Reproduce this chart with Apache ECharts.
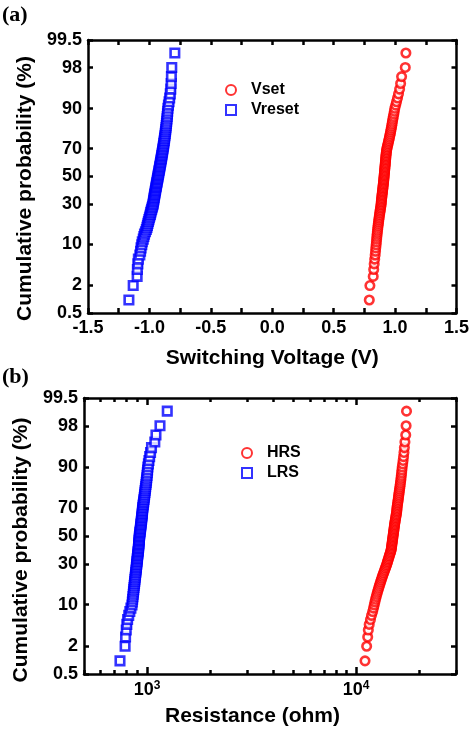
<!DOCTYPE html>
<html>
<head>
<meta charset="utf-8">
<script src="https://cdn.jsdelivr.net/npm/echarts@6/dist/echarts.min.js"></script>
<style>html,body{margin:0;padding:0;background:#fff}#c{width:472px;height:730px}</style>
</head>
<body>
<div id="c"></div>
<script>
// ---- data ----
const probTicks = [0.5, 2, 10, 30, 50, 70, 90, 98, 99.5];          // y tick labels (%)
const voltLabelStep = 0.5;                                        // x label step, panel (a)
const resMajorTicks = [1000, 10000];                              // x labels, panel (b)
const resMinorTicks = [500,600,700,800,900,2000,3000,4000,5000,6000,7000,8000,9000,20000,30000];

const vset = [0.790,0.795,0.822,0.826,0.830,0.834,0.838,0.841,0.843,0.846,
0.848,0.850,0.852,0.854,0.856,0.858,0.860,0.862,0.864,0.866,
0.868,0.870,0.872,0.874,0.876,0.878,0.880,0.882,0.884,0.886,
0.887,0.888,0.889,0.890,0.892,0.893,0.894,0.896,0.897,0.898,
0.900,0.901,0.902,0.903,0.905,0.906,0.907,0.908,0.909,0.910,
0.911,0.912,0.913,0.914,0.915,0.916,0.917,0.918,0.919,0.920,
0.921,0.922,0.923,0.924,0.925,0.926,0.927,0.929,0.930,0.932,
0.934,0.937,0.940,0.943,0.946,0.949,0.952,0.955,0.958,0.961,
0.964,0.967,0.970,0.973,0.976,0.979,0.982,0.986,0.990,0.994,
0.998,1.005,1.012,1.020,1.028,1.037,1.045,1.053,1.083,1.088];

const vreset = [-1.167,-1.132,-1.100,-1.098,-1.094,-1.090,-1.078,-1.072,-1.068,-1.062,
-1.058,-1.050,-1.045,-1.040,-1.032,-1.025,-1.020,-1.016,-1.012,-1.008,
-1.004,-1.000,-0.996,-0.992,-0.989,-0.986,-0.982,-0.978,-0.975,-0.971,
-0.969,-0.967,-0.965,-0.963,-0.961,-0.959,-0.957,-0.955,-0.953,-0.951,
-0.949,-0.947,-0.945,-0.943,-0.941,-0.939,-0.937,-0.935,-0.933,-0.931,
-0.929,-0.927,-0.925,-0.923,-0.921,-0.919,-0.917,-0.915,-0.913,-0.911,
-0.909,-0.907,-0.905,-0.903,-0.901,-0.899,-0.897,-0.895,-0.893,-0.891,
-0.889,-0.887,-0.885,-0.883,-0.881,-0.879,-0.877,-0.875,-0.873,-0.871,
-0.869,-0.867,-0.865,-0.863,-0.861,-0.859,-0.857,-0.855,-0.853,-0.851,
-0.849,-0.845,-0.840,-0.835,-0.830,-0.826,-0.823,-0.821,-0.818,-0.793];

const hrs = [11020,11220,11350,11430,11540,11700,11840,11990,12100,12200,
12290,12380,12470,12560,12650,12740,12830,12920,13010,13100,
13190,13280,13370,13460,13550,13640,13730,13820,13905,13990,
14060,14130,14200,14270,14340,14410,14480,14550,14620,14690,
14720,14750,14780,14810,14840,14870,14900,14930,14960,14990,
15020,15050,15080,15110,15140,15170,15200,15230,15260,15290,
15330,15370,15410,15450,15490,15530,15570,15610,15640,15660,
15680,15720,15760,15800,15840,15880,15920,15960,16000,16040,
16090,16140,16190,16240,16290,16340,16390,16440,16490,16540,
16600,16680,16760,16840,16920,17000,17100,17250,17320,17400];

const lrs = [743,786,790,796,801,808,818,828,838,848,
851,854,857,860,862,865,867,869,872,874,
876,878,880,882,884,886,888,890,891,893,
895,896,898,899,901,902,904,906,907,909,
910,912,913,914,915,916,917,918,919,920,
922,924,925,927,929,931,932,934,936,937,
939,941,943,944,946,948,949,951,952,954,
955,958,960,963,965,968,970,973,975,978,
980,983,986,989,992,995,998,1001,1004,1007,
1010,1016,1022,1030,1040,1051,1090,1104,1154,1250];

// ---- probability (normal quantile) scale ----
function probit(p){
  const a=[-3.969683028665376e+01,2.209460984245205e+02,-2.759285104469687e+02,1.383577518672690e+02,-3.066479806614716e+01,2.506628277459239e+00];
  const b=[-5.447609879822406e+01,1.615858368580409e+02,-1.556989798598866e+02,6.680131188771972e+01,-1.328068155288572e+01];
  const c=[-7.784894002430293e-03,-3.223964580411365e-01,-2.400758277161838e+00,-2.549732539343734e+00,4.374664141464968e+00,2.938163982698783e+00];
  const d=[7.784695709041462e-03,3.224671290700398e-01,2.445134137142996e+00,3.754408661907416e+00];
  const pl=0.02425, ph=1-pl; let q,r;
  if(p<pl){q=Math.sqrt(-2*Math.log(p));return (((((c[0]*q+c[1])*q+c[2])*q+c[3])*q+c[4])*q+c[5])/((((d[0]*q+d[1])*q+d[2])*q+d[3])*q+1);}
  if(p<=ph){q=p-0.5;r=q*q;return (((((a[0]*r+a[1])*r+a[2])*r+a[3])*r+a[4])*r+a[5])*q/(((((b[0]*r+b[1])*r+b[2])*r+b[3])*r+b[4])*r+1);}
  q=Math.sqrt(-2*Math.log(1-p));return -(((((c[0]*q+c[1])*q+c[2])*q+c[3])*q+c[4])*q+c[5])/((((d[0]*q+d[1])*q+d[2])*q+d[3])*q+1);
}
const probZ = probTicks.map(p => probit(p/100));
const zMin = probZ[0], zMax = probZ[probZ.length-1];
// cumulative probability of each sorted value: rank/(n+1)
function toPoints(vals){
  const s = vals.slice().sort((x,y)=>x-y); const n = s.length;
  return s.map((v,i)=>[v, probit((i+1)/(n+1))]);
}

const FONT = 'Liberation Sans, Arial, sans-serif';
const BLACK = '#000';
const lineW = 2.5;
const tickLabel = {color:BLACK, fontFamily:FONT, fontWeight:'bold', fontSize:18};
const nameStyle = {color:BLACK, fontFamily:FONT, fontWeight:'bold', fontSize:21};

function yAxisDef(grid, pos, withLabels, nameGap, shift){
  return {
    type:'value', gridIndex:grid, position:pos, min:zMin, max:zMax,
    axisLine:{show:true, onZero:false, lineStyle:{color:BLACK, width:lineW}},
    axisTick:{show:true, inside:true, length:5, lineStyle:{color:BLACK, width:lineW}, customValues:probZ},
    axisLabel:{show:withLabels, customValues:probZ, margin:6, ...tickLabel,
      formatter:(v)=>{const i=probZ.findIndex(z=>Math.abs(z-v)<1e-6); return i>=0?String(probTicks[i]):'';}},
    splitLine:{show:false},
    name: withLabels ? 'Cumulative probability (%)' : '',
    nameLocation:'middle', nameRotate:90, nameGap:nameGap,
    nameTextStyle:{...nameStyle, padding:[0, shift||0, 0, 0]}
  };
}

function voltAxis(pos, withLabels){
  return {
    type:'value', gridIndex:0, position:pos, min:-1.5, max:1.5, interval:0.25,
    axisLine:{show:true, onZero:false, lineStyle:{color:BLACK, width:lineW}},
    axisTick:{show:true, inside:true, length:5, lineStyle:{color:BLACK, width:lineW}},
    axisLabel:{show:withLabels, margin:6, showMinLabel:true, showMaxLabel:true, ...tickLabel,
      formatter:(v)=>{const k=v/voltLabelStep; return Math.abs(k-Math.round(k))<1e-6 ? v.toFixed(1) : '';}},
    splitLine:{show:false},
    name: withLabels ? 'Switching Voltage (V)' : '',
    nameLocation:'middle', nameGap:35, nameTextStyle:nameStyle
  };
}

function resAxis(pos, major, withLine, withLabels){
  return {
    type:'log', logBase:10, gridIndex:1, position:pos, min:500, max:30000,
    axisLine:{show:withLine, onZero:false, lineStyle:{color:BLACK, width:lineW}},
    axisTick:{show:true, inside:true, length: major?7:4, lineStyle:{color:BLACK, width:lineW},
      customValues: major ? resMajorTicks : resMinorTicks},
    axisLabel:{show:withLabels, customValues:resMajorTicks, margin:6, ...tickLabel,
      formatter:(v)=>'10{s|'+Math.round(Math.log10(v))+'}',
      rich:{s:{fontSize:12, fontWeight:'bold', fontFamily:FONT, color:BLACK, verticalAlign:'top', lineHeight:20}}},
    splitLine:{show:false},
    name: withLabels ? 'Resistance (ohm)' : '',
    nameLocation:'middle', nameGap:32, nameTextStyle:{...nameStyle, padding:[0, 35, 0, 0]}
  };
}

const legendText = {color:BLACK, fontFamily:FONT, fontWeight:'bold', fontSize:16, lineHeight:20,
  rich:{p:{padding:[0,0,0,10], color:BLACK, fontFamily:FONT, fontWeight:'bold', fontSize:16, lineHeight:20}}};
const markStyle = (c)=>({color:'#ffffff', borderColor:c, borderWidth:2.6});
const scatterBase = {type:'scatter', symbolSize:8.5};
const option = {
  animation:false,
  backgroundColor:'#fff',
  grid:[{left:88, top:40, right:15, bottom:417},{left:84, top:398, right:16, bottom:56}],
  xAxis:[
    voltAxis('bottom', true), voltAxis('top', false),
    resAxis('bottom', false, true, true), resAxis('bottom', true, false, false),
    resAxis('top', false, true, false), resAxis('top', true, false, false)
  ],
  yAxis:[
    yAxisDef(0,'left',true,52,24), yAxisDef(0,'right',false,0),
    yAxisDef(1,'left',true,49,28), yAxisDef(1,'right',false,0)
  ],
  legend:[
    {data:['Vset','Vreset'], orient:'vertical', left:220, top:75, itemWidth:10, itemHeight:10, itemGap:0,
     formatter:(n)=>'{p|'+n+'}', textStyle:legendText},
    {data:['HRS','LRS'], orient:'vertical', left:236, top:438, itemWidth:10, itemHeight:10, itemGap:0,
     formatter:(n)=>'{p|'+n+'}', textStyle:legendText}
  ],
  graphic:[
    {type:'text', left:2, top:4, style:{text:'(a)', font:'bold 22px "Liberation Serif", "Times New Roman", serif', fill:BLACK}},
    {type:'text', left:2, top:366, style:{text:'(b)', font:'bold 22px "Liberation Serif", "Times New Roman", serif', fill:BLACK}}
  ],
  series:[
    {...scatterBase, name:'Vset', xAxisIndex:0, yAxisIndex:0, symbol:'circle', itemStyle:markStyle('#ff0000'), data:toPoints(vset)},
    {...scatterBase, name:'Vreset', xAxisIndex:0, yAxisIndex:0, symbol:'rect', itemStyle:markStyle('#0000ff'), data:toPoints(vreset)},
    {...scatterBase, name:'HRS', xAxisIndex:2, yAxisIndex:2, symbol:'circle', itemStyle:markStyle('#ff0000'), data:toPoints(hrs)},
    {...scatterBase, name:'LRS', xAxisIndex:2, yAxisIndex:2, symbol:'rect', itemStyle:markStyle('#0000ff'), data:toPoints(lrs)}
  ]
};
const chart = echarts.init(document.getElementById('c'), null, {renderer:'canvas'});
chart.setOption(option);
</script>
</body>
</html>
